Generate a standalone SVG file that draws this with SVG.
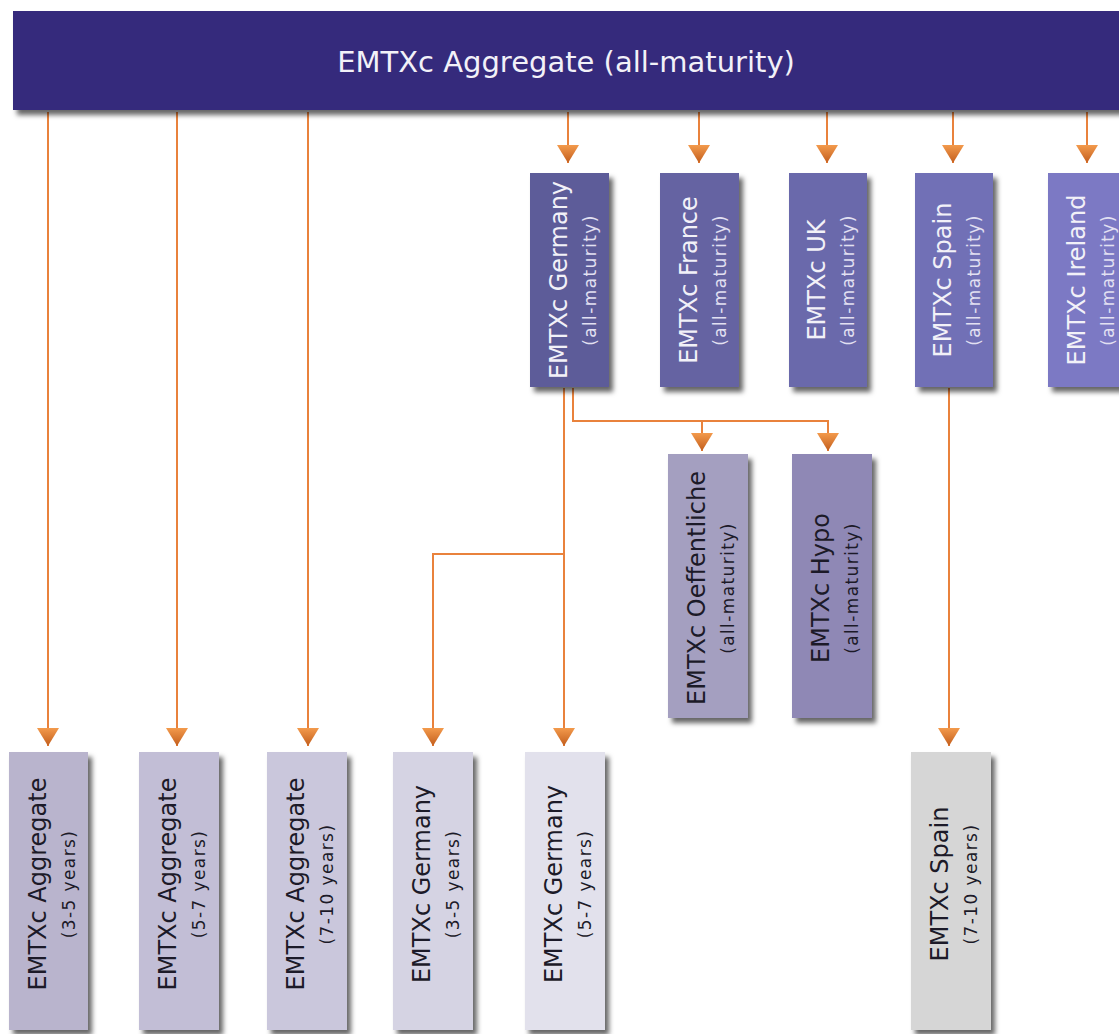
<svg xmlns="http://www.w3.org/2000/svg" width="1119" height="1034" viewBox="0 0 1119 1034">
<style>
  .main{font-family:"DejaVu Sans",sans-serif;font-size:24px;text-anchor:middle}
  .sub{font-family:"DejaVu Sans",sans-serif;font-size:17px;text-anchor:middle;letter-spacing:1.4px}
  .lt{fill:#f2f1f8}
  .lts{fill:#e2e0f2}
  .dk{fill:#1c1a28}
  .box{filter:url(#sh)}
  .con{fill:none;stroke:#e9823c;stroke-width:2;marker-end:url(#ah)}
</style>
<defs>
  <filter id="sh" x="-20%" y="-20%" width="150%" height="150%">
    <feDropShadow dx="4" dy="5" stdDeviation="2.5" flood-color="#000" flood-opacity="0.6"/>
  </filter>
  <linearGradient id="ag" x1="0" y1="0" x2="0" y2="1">
    <stop offset="0" stop-color="#f39a4c"/>
    <stop offset="1" stop-color="#c25d1c"/>
  </linearGradient>
  <marker id="ah" markerUnits="userSpaceOnUse" markerWidth="24" markerHeight="20" viewBox="-12 -19 24 20" refX="0" refY="0" orient="0">
    <path d="M-11 -18 L11 -18 L0 0 Z" fill="url(#ag)"/>
  </marker>
</defs>
<rect width="1119" height="1034" fill="#ffffff"/>

<g id="connectors">
  <path class="con" d="M48 112 V746"/>
  <path class="con" d="M177 112 V746"/>
  <path class="con" d="M308 112 V746"/>
  <path class="con" d="M568 112 V163"/>
  <path class="con" d="M699 112 V163"/>
  <path class="con" d="M827 112 V163"/>
  <path class="con" d="M953 112 V163"/>
  <path class="con" d="M1087 112 V163"/>
  <path class="con" d="M573 388 V421 H828 V451"/>
  <path class="con" d="M702 421 V451"/>
  <path class="con" d="M564 388 V746"/>
  <path class="con" d="M564 554 H433 V746"/>
  <path class="con" d="M949 388 V746"/>
</g>

<g id="n-aggregate">
  <rect class="box" x="13" y="11" width="1120" height="99" fill="#352a7b"/>
  <text x="566" y="72" class="lt" style="font-family:'DejaVu Sans',sans-serif;font-size:29px;text-anchor:middle">EMTXc Aggregate (all-maturity)</text>
</g>

<g id="n-germany">
  <rect class="box" x="530" y="173" width="79" height="214" fill="#5d5b99"/>
  <g transform="translate(569.5,280) rotate(-90)">
    <text class="main lt" y="-3">EMTXc Germany</text>
    <text class="sub lts" y="26">(all-maturity)</text>
  </g>
</g>
<g id="n-france">
  <rect class="box" x="660" y="173" width="79" height="214" fill="#6563a2"/>
  <g transform="translate(699.5,280) rotate(-90)">
    <text class="main lt" y="-3">EMTXc France</text>
    <text class="sub lts" y="26">(all-maturity)</text>
  </g>
</g>
<g id="n-uk">
  <rect class="box" x="789" y="173" width="78" height="214" fill="#6b69ab"/>
  <g transform="translate(828,280) rotate(-90)">
    <text class="main lt" y="-3">EMTXc UK</text>
    <text class="sub lts" y="26">(all-maturity)</text>
  </g>
</g>
<g id="n-spain">
  <rect class="box" x="915" y="173" width="78" height="214" fill="#716fb6"/>
  <g transform="translate(954,280) rotate(-90)">
    <text class="main lt" y="-3">EMTXc Spain</text>
    <text class="sub lts" y="26">(all-maturity)</text>
  </g>
</g>
<g id="n-ireland">
  <rect class="box" x="1048" y="173" width="79" height="214" fill="#7b79c4"/>
  <g transform="translate(1087.5,280) rotate(-90)">
    <text class="main lt" y="-3">EMTXc Ireland</text>
    <text class="sub lts" y="26">(all-maturity)</text>
  </g>
</g>

<g id="n-oeffentliche">
  <rect class="box" x="668" y="454" width="80" height="264" fill="#a49fc0"/>
  <g transform="translate(708,588) rotate(-90)">
    <text class="main dk" y="-3">EMTXc Oeffentliche</text>
    <text class="sub dk" y="26">(all-maturity)</text>
  </g>
</g>
<g id="n-hypo">
  <rect class="box" x="792" y="454" width="80" height="264" fill="#8f88b5"/>
  <g transform="translate(832,588) rotate(-90)">
    <text class="main dk" y="-3">EMTXc Hypo</text>
    <text class="sub dk" y="26">(all-maturity)</text>
  </g>
</g>

<g id="n-agg-3-5">
  <rect class="box" x="9" y="752" width="79" height="278" fill="#b9b4cd"/>
  <g transform="translate(48.5,884) rotate(-90)">
    <text class="main dk" y="-3">EMTXc Aggregate</text>
    <text class="sub dk" y="26">(3-5 years)</text>
  </g>
</g>
<g id="n-agg-5-7">
  <rect class="box" x="139" y="752" width="80" height="278" fill="#c2bed6"/>
  <g transform="translate(179,884) rotate(-90)">
    <text class="main dk" y="-3">EMTXc Aggregate</text>
    <text class="sub dk" y="26">(5-7 years)</text>
  </g>
</g>
<g id="n-agg-7-10">
  <rect class="box" x="267" y="752" width="80" height="278" fill="#cac7dc"/>
  <g transform="translate(307,884) rotate(-90)">
    <text class="main dk" y="-3">EMTXc Aggregate</text>
    <text class="sub dk" y="26">(7-10 years)</text>
  </g>
</g>
<g id="n-germany-3-5">
  <rect class="box" x="393" y="752" width="80" height="278" fill="#d5d3e3"/>
  <g transform="translate(433,884) rotate(-90)">
    <text class="main dk" y="-3">EMTXc Germany</text>
    <text class="sub dk" y="26">(3-5 years)</text>
  </g>
</g>
<g id="n-germany-5-7">
  <rect class="box" x="525" y="752" width="80" height="278" fill="#e2e1ec"/>
  <g transform="translate(565,884) rotate(-90)">
    <text class="main dk" y="-3">EMTXc Germany</text>
    <text class="sub dk" y="26">(5-7 years)</text>
  </g>
</g>
<g id="n-spain-7-10">
  <rect class="box" x="911" y="752" width="80" height="278" fill="#d6d6d6"/>
  <g transform="translate(951,884) rotate(-90)">
    <text class="main dk" y="-3">EMTXc Spain</text>
    <text class="sub dk" y="26">(7-10 years)</text>
  </g>
</g>
</svg>
